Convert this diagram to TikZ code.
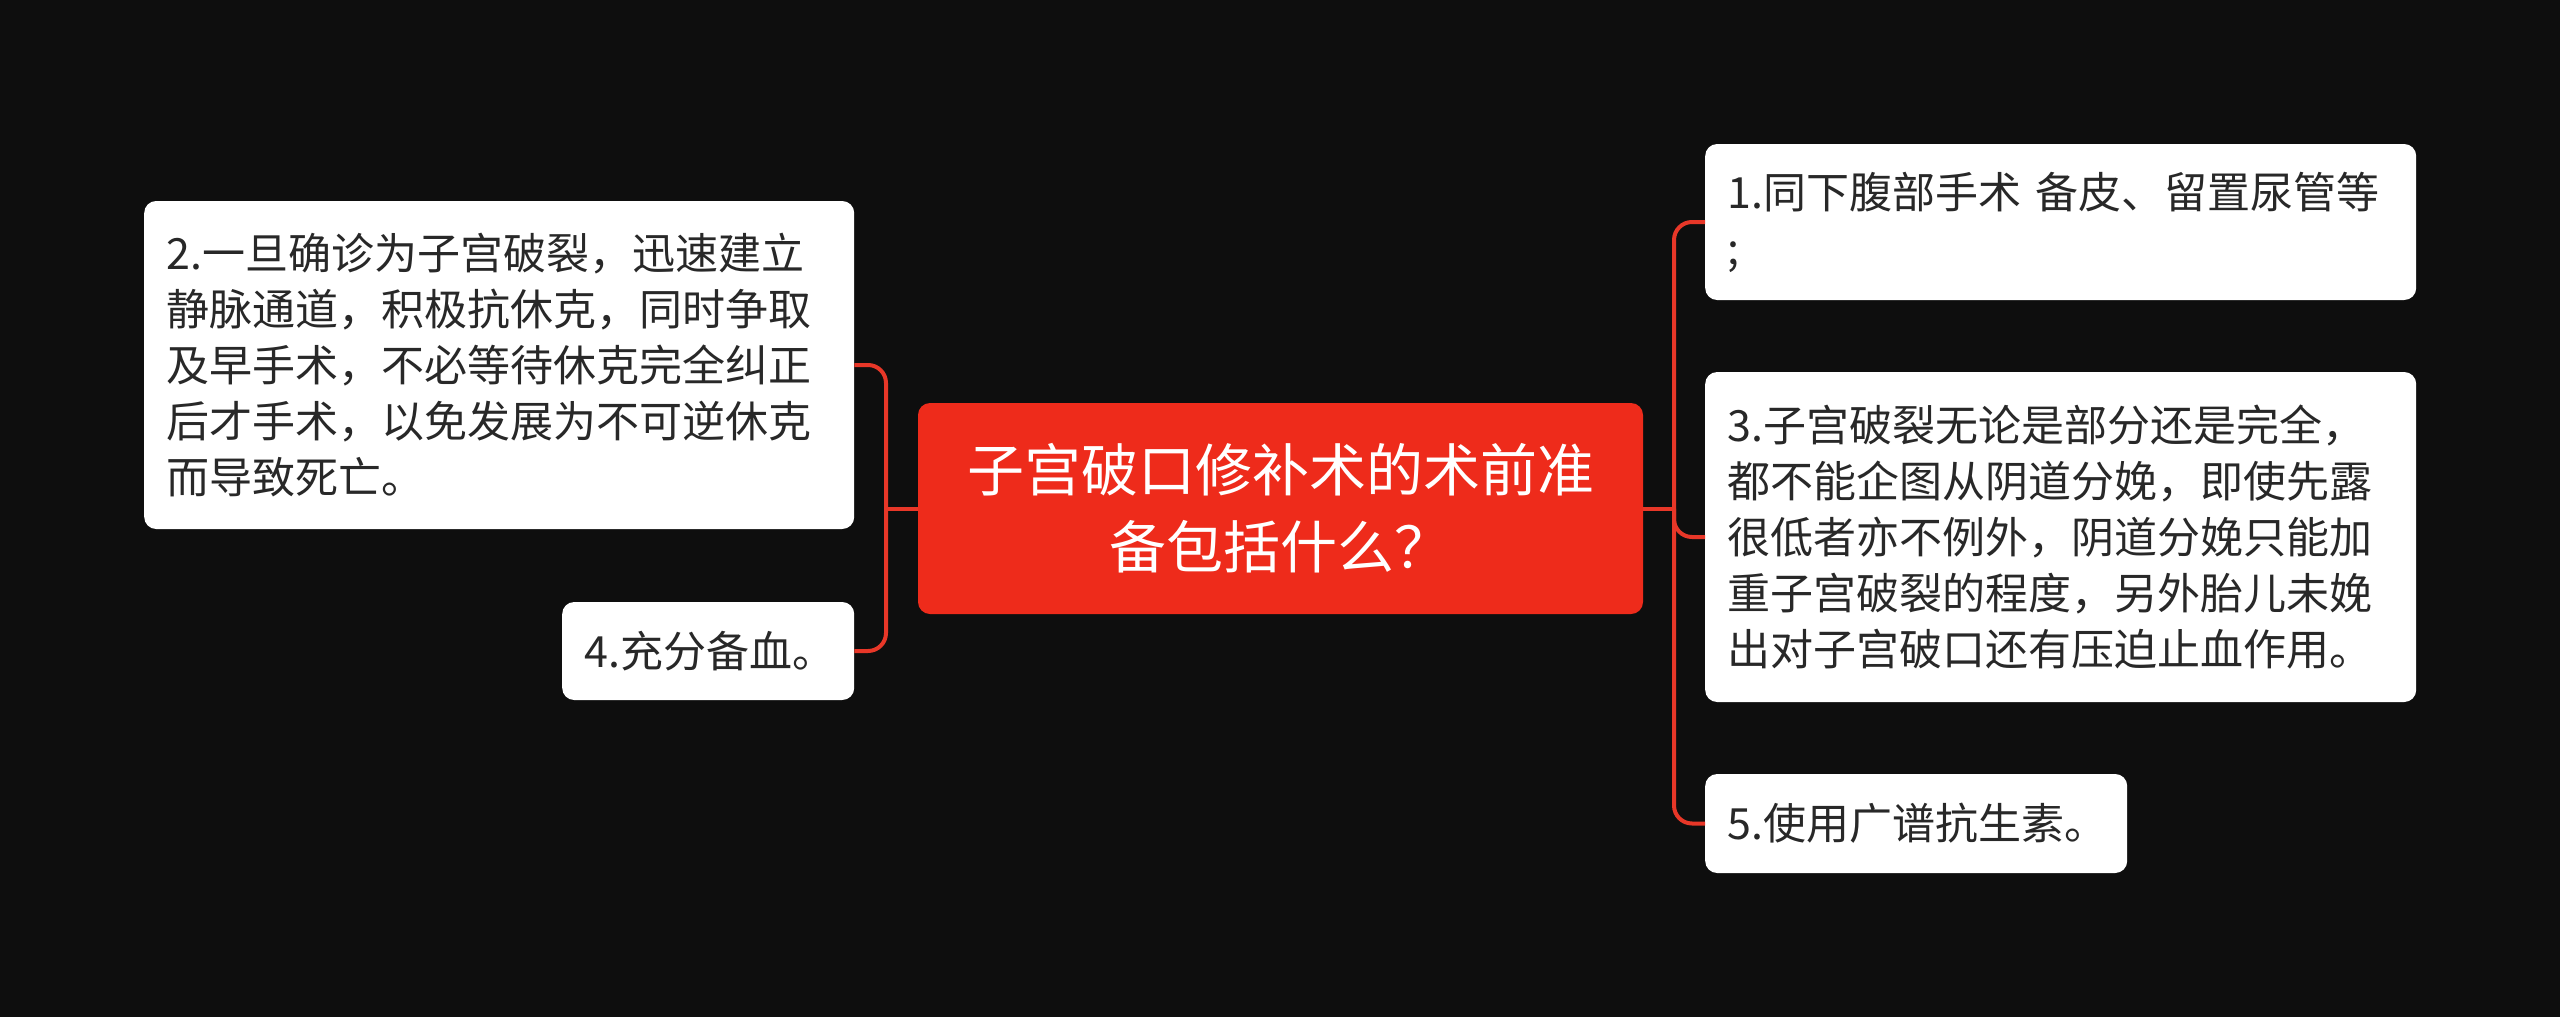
\documentclass[tikz,border=0pt]{standalone}
\usepackage{fontspec}
\setmainfont{Noto Sans CJK SC}
\definecolor{bg}{RGB}{14,14,14}
\definecolor{rootfill}{RGB}{238,43,27}
\definecolor{linec}{RGB}{232,55,40}
\definecolor{txt}{RGB}{40,40,40}
\begin{document}
\begin{tikzpicture}[x=1pt,y=-1pt,
  leaf/.style={fill=white, rounded corners=12pt, text=txt, align=left,
    inner xsep=22pt, inner ysep=0pt, anchor=west,
    font=\fontsize{43}{56}\selectfont},
  rootbox/.style={fill=rootfill, rounded corners=12pt, text=white, align=center,
    inner xsep=20pt, inner ysep=0pt, font=\fontsize{57}{77}\selectfont},
  conn/.style={draw=linec, line width=4pt, rounded corners=18pt}]
\fill[bg] (0,0) rectangle (2560,1017);
\useasboundingbox (0,0) rectangle (2560,1017);

\node[rootbox, text width=685pt, minimum height=211pt] (c) at (1280.5,508.5)
  {子宫破口修补术的术前准\\备包括什么？};

\node[leaf, text width=666pt, minimum height=328pt] (b2) at (144,365)
  {2.一旦确诊为子宫破裂，迅速建立\\静脉通道，积极抗休克，同时争取\\及早手术，不必等待休克完全纠正\\后才手术，以免发展为不可逆休克\\而导致死亡。};
\node[leaf, text width=248pt, minimum height=98pt] (b4) at (562,651)
  {4.充分备血。};

\node[leaf, text width=667pt, minimum height=156pt] (b1) at (1705,222)
  {1.同下腹部手术 备皮、留置尿管等\\;};
\node[leaf, text width=667pt, minimum height=330pt] (b3) at (1705,537)
  {3.子宫破裂无论是部分还是完全，\\都不能企图从阴道分娩，即使先露\\很低者亦不例外，阴道分娩只能加\\重子宫破裂的程度，另外胎儿未娩\\出对子宫破口还有压迫止血作用。};
\node[leaf, text width=378pt, minimum height=99pt] (b5) at (1705,823.5)
  {5.使用广谱抗生素。};

\coordinate (ls) at (886,508.5);
\coordinate (rs) at (1674,508.5);

\draw[conn] (c.west) -- (ls);
\draw[conn] (b2.east) -| (ls) |- (b4.east);
\draw[conn] (c.east) -- (rs);
\draw[conn] (b1.west) -| (rs) |- (b5.west);
\draw[conn] (rs) |- (b3.west);
\end{tikzpicture}
\end{document}
